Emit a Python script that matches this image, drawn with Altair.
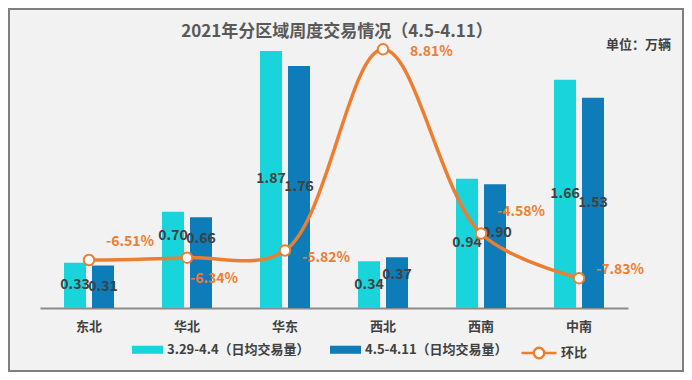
import altair as alt
import pandas as pd

regions = ["东北", "华北", "华东", "西北", "西南", "中南"]
prev_week = [0.33, 0.70, 1.87, 0.34, 0.94, 1.66]
this_week = [0.31, 0.66, 1.76, 0.37, 0.90, 1.53]
ratio = [-0.0651, -0.0634, -0.0582, 0.0881, -0.0458, -0.0783]
ratio_labels = ["-6.51%", "-6.34%", "-5.82%", "8.81%", "-4.58%", "-7.83%"]
series = ["3.29-4.4（日均交易量）", "4.5-4.11（日均交易量）"]
line_name = "环比"

FONT = "Noto Sans CJK SC"
CYAN = "#19D4DA"
BLUE = "#0E7CB8"
ORANGE = "#ED7D31"
DARK = "#404040"

bars = pd.DataFrame(
    [{"region": r, "series": series[0], "s": 0, "value": v, "label": f"{v:.2f}"} for r, v in zip(regions, prev_week)]
    + [{"region": r, "series": series[1], "s": 1, "value": v, "label": f"{v:.2f}"} for r, v in zip(regions, this_week)]
)
line = pd.DataFrame({"region": regions, "ratio": ratio, "label": ratio_labels, "name": line_name})

W, H = 588, 275

x_enc = alt.X("region:N", sort=regions, scale=alt.Scale(paddingInner=0, paddingOuter=0),
              axis=alt.Axis(title=None, labelFont=FONT, labelFontSize=13, labelFontWeight="bold",
                            labelColor=DARK, labelPadding=12, ticks=False, domainColor="#8C8C8C",
                            domainWidth=2, labelAngle=0, grid=False))
y_bar = alt.Y("value:Q", scale=alt.Scale(domain=[0, 2], nice=False), axis=None)
xoff = alt.XOffset("series:N", sort=series,
                   scale=alt.Scale(paddingInner=0.214, paddingOuter=0.857))

sym_rect = "M-1,-0.26 L1,-0.26 L1,0.26 L-1,0.26 Z"
bar_layer = alt.Chart(bars).mark_bar().encode(
    x=x_enc, y=y_bar, xOffset=xoff,
    fill=alt.Fill("series:N", sort=series, scale=alt.Scale(domain=series, range=[CYAN, BLUE]),
                  legend=alt.Legend(title=None, orient="none", legendX=92, legendY=301,
                                    direction="horizontal", symbolType=sym_rect, symbolSize=961,
                                    symbolStrokeWidth=0, labelFont=FONT, labelFontSize=13,
                                    labelFontWeight="bold", labelColor=DARK, columnPadding=20,
                                    labelOffset=4)),
)

bar_base = alt.Chart(bars).transform_calculate(mid="datum.value / 2")
bar_text_layers = []
bar_dy = {("华北", 0): -24, ("华北", 1): -24, ("西北", 1): -8, ("西南", 1): -13}
bar_dx = {("西南", 1): 2}
for r in regions:
    for s in (0, 1):
        dy = bar_dy.get((r, s), 0)
        dx = bar_dx.get((r, s), 0)
        bar_text_layers.append(
            bar_base.transform_filter((alt.datum.region == r) & (alt.datum.s == s)).mark_text(
                font=FONT, fontSize=14, fontWeight="bold", color=DARK, dy=dy, dx=dx
            ).encode(x=x_enc, xOffset=xoff,
                     y=alt.Y("mid:Q", scale=alt.Scale(domain=[0, 2], nice=False), axis=None),
                     text="label:N")
        )
bar_texts = alt.layer(*bar_text_layers)

y_line = alt.Y("ratio:Q", scale=alt.Scale(domain=[-0.1, 0.1], nice=False), axis=None)
sym_line = "M-1,0 L-0.3,0 M0.3,0 L1,0 M0.3,0 A0.3,0.3 0 1,0 -0.3,0 A0.3,0.3 0 1,0 0.3,0 Z"
line_layer = alt.Chart(line).mark_line(interpolate="catmull-rom", strokeWidth=3.5).encode(
    x=x_enc, y=y_line,
    stroke=alt.Stroke("name:N", scale=alt.Scale(domain=[line_name], range=[ORANGE]),
                      legend=alt.Legend(title=None, orient="none", legendX=480, legendY=301,
                                        symbolType=sym_line, symbolSize=1225, symbolStrokeWidth=2.5,
                                        symbolFillColor="white", labelFont=FONT, labelFontSize=13,
                                        labelFontWeight="bold", labelColor=DARK, labelOffset=3)),
)
point_layer = alt.Chart(line).mark_point(filled=True, fill="white", stroke=ORANGE, strokeWidth=2,
                                         size=110, opacity=1).encode(x=x_enc, y=y_line)

ratio_offsets = {"东北": (17, -18), "华北": (3, 21), "华东": (17, 7), "西北": (27, 3),
                 "西南": (16, -21), "中南": (17, -8)}
ratio_text_layers = []
for r in regions:
    dx, dy = ratio_offsets[r]
    ratio_text_layers.append(
        alt.Chart(line).transform_filter(alt.datum.region == r).mark_text(
            font=FONT, fontSize=14, fontWeight="bold", color=ORANGE, align="left", dx=dx, dy=dy
        ).encode(x=x_enc, y=y_line, text="label:N")
    )
ratio_texts = alt.layer(*ratio_text_layers)

title_df = pd.DataFrame({"t": ["2021年分区域周度交易情况（4.5-4.11）"]})
title = alt.Chart(title_df).mark_text(font=FONT, fontSize=17, fontWeight="bold", color="#595959",
                                      align="center", baseline="middle").encode(
    x=alt.value(297), y=alt.value(-1), text="t:N")
unit_df = pd.DataFrame({"t": ["单位：万辆"]})
unit = alt.Chart(unit_df).mark_text(font=FONT, fontSize=13, fontWeight="bold", color=DARK,
                                    align="right", baseline="middle").encode(
    x=alt.value(631), y=alt.value(12), text="t:N")
border = alt.Chart(title_df).mark_rect(fill=None, stroke="#7F7F7F", strokeWidth=2, clip=False).encode(
    x=alt.value(-31), x2=alt.value(643), y=alt.value(-24), y2=alt.value(338))

bars_part = alt.layer(bar_layer, bar_texts)
line_part = alt.layer(line_layer, point_layer, ratio_texts)

chart = alt.layer(border, bars_part, line_part, title, unit).resolve_scale(
    y="independent", fill="independent", stroke="independent"
).properties(
    width=W, height=H, background="#F2F2F2",
    padding={"left": 32, "top": 25, "right": 56, "bottom": 64},
    autosize=alt.AutoSizeParams(type="none"),
).configure_view(stroke=None)

chart.save("out.html", embed_options={"renderer": "svg", "actions": False})
